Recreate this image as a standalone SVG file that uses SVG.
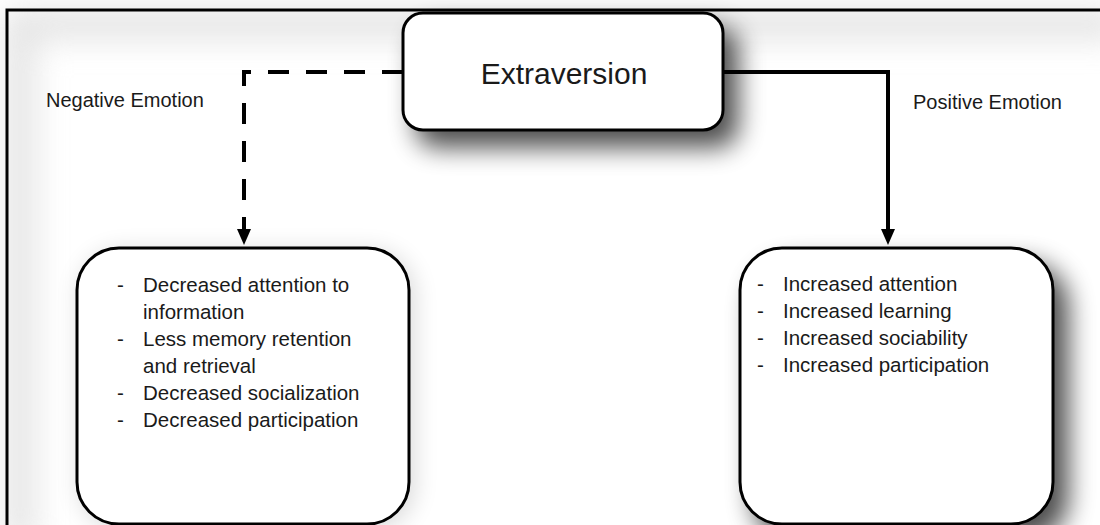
<svg xmlns="http://www.w3.org/2000/svg" width="1100" height="525" viewBox="0 0 1100 525">
  <defs>
    <style>
      .box { fill: #ffffff; stroke: #000000; stroke-width: 3; }
      .label { font-family: "Liberation Sans", Arial, sans-serif; fill: #1a1a1a; }
      .title { font-size: 30px; }
      .item { font-size: 20.5px; }
      .side { font-size: 20px; }
      .link { fill: none; stroke: #000000; stroke-width: 4; }
      .dashed { stroke-dasharray: 21 17; }
      .head { fill: #000000; }
    </style>
    <filter id="shadow" x="-20%" y="-30%" width="160%" height="190%">
      <feGaussianBlur in="SourceAlpha" stdDeviation="13"/>
      <feOffset dx="14" dy="16" result="blur"/>
      <feComponentTransfer><feFuncA type="linear" slope="0.7"/></feComponentTransfer>
      <feMerge><feMergeNode/><feMergeNode in="SourceGraphic"/></feMerge>
    </filter>
    <filter id="softShadow" x="-20%" y="-20%" width="150%" height="150%">
      <feGaussianBlur in="SourceAlpha" stdDeviation="12"/>
      <feOffset dx="4" dy="4" result="blur"/>
      <feComponentTransfer><feFuncA type="linear" slope="0.15"/></feComponentTransfer>
      <feMerge><feMergeNode/><feMergeNode in="SourceGraphic"/></feMerge>
    </filter>
    <filter id="haze" x="-10%" y="-10%" width="120%" height="120%">
      <feGaussianBlur stdDeviation="16"/>
    </filter>
  </defs>

  <rect width="1100" height="525" fill="#ffffff"/>

  <!-- faint haze inside the frame -->
  <g filter="url(#haze)" opacity="0.6">
    <path d="M20,545 L20,24 L1120,24" fill="none" stroke="#d0d0d0" stroke-width="30"/>
  </g>

  <!-- outer frame (top and left edges) -->
  <path d="M7,525 L7,10 L1100,10" fill="none" stroke="#000000" stroke-width="3"/>

  <!-- connectors -->
  <g id="connectors">
    <path class="link dashed" d="M403,72 L244,72 L244,230"/>
    <path class="head" d="M237,229 L251,229 L244,245 Z"/>
    <path class="link" d="M723,72 L888,72 L888,230"/>
    <path class="head" d="M881,229 L895,229 L888,245 Z"/>
  </g>

  <!-- central node -->
  <g id="extraversion">
    <rect class="box" x="403" y="13" width="320" height="117" rx="20" ry="20" filter="url(#shadow)"/>
    <text class="label title" x="564" y="84" text-anchor="middle">Extraversion</text>
  </g>

  <!-- branch labels -->
  <g id="negative-label">
    <text class="label side" x="46" y="107">Negative Emotion</text>
  </g>
  <g id="positive-label">
    <text class="label side" x="913" y="109">Positive Emotion</text>
  </g>

  <!-- negative outcomes -->
  <g id="negative-outcomes">
    <rect class="box" x="77" y="248" width="332" height="276" rx="42" ry="42" filter="url(#softShadow)"/>
    <g class="label item">
      <text x="117" y="292">-</text>
      <text x="143" y="292">Decreased attention to</text>
      <text x="143" y="319">information</text>
      <text x="117" y="346">-</text>
      <text x="143" y="346">Less memory retention</text>
      <text x="143" y="373">and retrieval</text>
      <text x="117" y="400">-</text>
      <text x="143" y="400">Decreased socialization</text>
      <text x="117" y="427">-</text>
      <text x="143" y="427">Decreased participation</text>
    </g>
  </g>

  <!-- positive outcomes -->
  <g id="positive-outcomes">
    <rect class="box" x="740" y="248" width="313" height="276" rx="42" ry="42" filter="url(#shadow)"/>
    <g class="label item">
      <text x="757" y="291">-</text>
      <text x="783" y="291">Increased attention</text>
      <text x="757" y="318">-</text>
      <text x="783" y="318">Increased learning</text>
      <text x="757" y="345">-</text>
      <text x="783" y="345">Increased sociability</text>
      <text x="757" y="372">-</text>
      <text x="783" y="372">Increased participation</text>
    </g>
  </g>
</svg>
